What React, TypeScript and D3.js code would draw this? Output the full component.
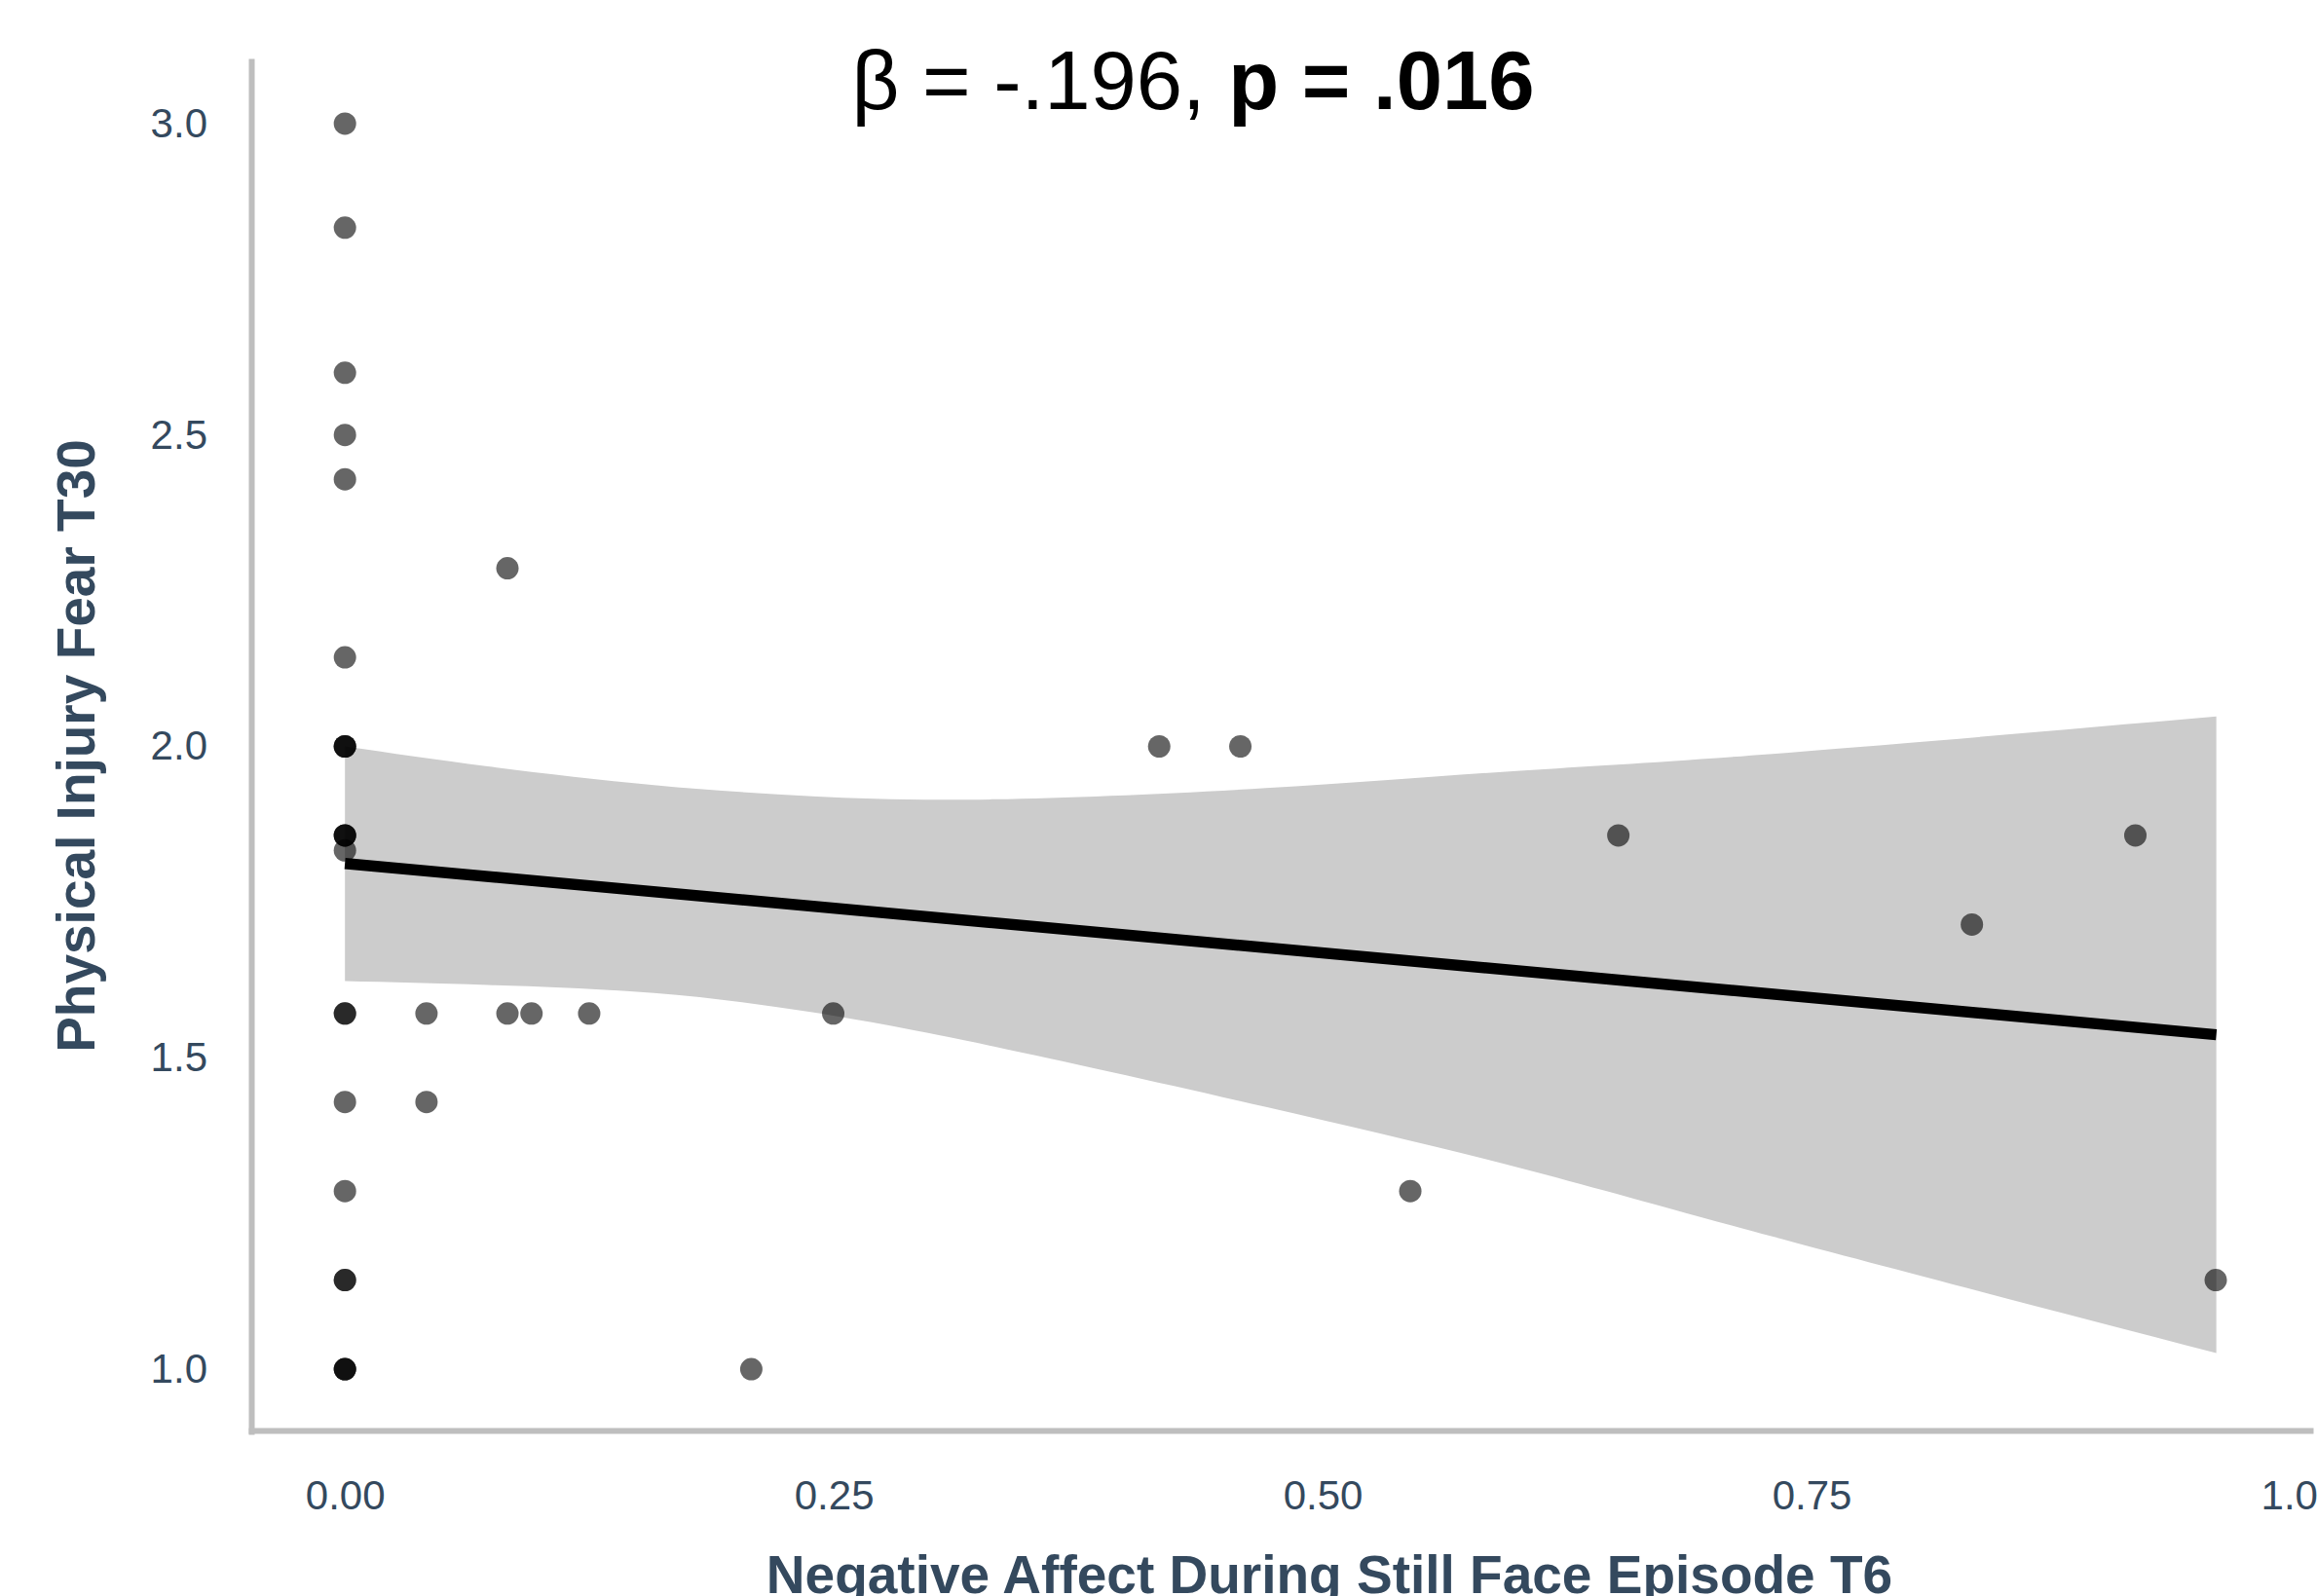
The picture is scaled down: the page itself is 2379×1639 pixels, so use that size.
import React, { useRef, useEffect } from 'react';
import * as d3 from 'd3';

// scatter points (x = negative affect T6, y = physical injury fear T30); repeated rows are overlapping points
const pointX = [
  0, 0, 0, 0, 0, 0, 0, 0, 0, 0, 0, 0, 0, 0, 0, 0, 0, 0, 0, 0, 0, 0,
  0.0417, 0.0417, 0.0831, 0.0831, 0.0954, 0.1249, 0.2078, 0.2497,
  0.4164, 0.4579, 0.5448, 0.6512, 0.832, 0.9156, 0.9567,
];
const pointY = [
  3.0, 2.833, 2.6, 2.5, 2.429, 2.143, 2.0, 2.0, 2.0, 1.857, 1.857, 1.857, 1.833,
  1.571, 1.571, 1.429, 1.286, 1.143, 1.143, 1.0, 1.0, 1.0,
  1.571, 1.429, 2.286, 1.571, 1.571, 1.571, 1.0, 1.571,
  2.0, 2.0, 1.286, 1.857, 1.714, 1.857, 1.143,
];

// confidence band
const bandX = [0, 0.073, 0.158, 0.239, 0.332, 0.471, 0.601, 0.73, 0.957];
const bandUpper = [2.0, 1.968, 1.938, 1.92, 1.915, 1.933, 1.961, 1.988, 2.048];
const bandLower = [1.623, 1.617, 1.604, 1.573, 1.518, 1.421, 1.323, 1.213, 1.026];

// fitted line
const fitX = [0, 0.957];
const fitY = [1.812, 1.537];

const xTicks = [0, 0.25, 0.5, 0.75, 1.0];
const yTicks = [1.0, 1.5, 2.0, 2.5, 3.0];

const FONT = "'Liberation Sans', Arial, Helvetica, sans-serif";
const W = 2379;
const H = 1639;

const App = () => {
  const ref = useRef<SVGSVGElement>(null);

  useEffect(() => {
    const svg = d3.select(ref.current);
    svg.selectAll('*').remove();

    const x = d3.scaleLinear().domain([-0.0479, 1.005]).range([258, 2372]);
    const y = d3.scaleLinear().domain([0.9, 3.1]).range([1470, 63]);

    // band
    const band = bandX.map((v, i) => ({ x: v, lo: bandLower[i], hi: bandUpper[i] }));
    svg.append('path')
      .datum(band)
      .attr('fill', '#cccccc')
      .attr('d', d3.area<any>()
        .x(d => x(d.x))
        .y0(d => y(d.lo))
        .y1(d => y(d.hi))
        .curve(d3.curveNatural));

    // points
    svg.append('g')
      .selectAll('circle')
      .data(pointX.map((v, i) => [v, pointY[i]]))
      .enter().append('circle')
      .attr('cx', d => x(d[0]))
      .attr('cy', d => y(d[1]))
      .attr('r', 11.5)
      .attr('fill', '#000')
      .attr('fill-opacity', 0.6);

    // fit line
    svg.append('path')
      .datum(fitX.map((v, i) => [v, fitY[i]]))
      .attr('fill', 'none')
      .attr('stroke', '#000')
      .attr('stroke-width', 11.5)
      .attr('d', d3.line<any>().x(d => x(d[0])).y(d => y(d[1])));

    // axes
    const xAxis = svg.append('g')
      .attr('transform', 'translate(0,1469)')
      .call(d3.axisBottom(x).tickValues(xTicks).tickFormat(d3.format('.2f')).tickSize(0).tickSizeOuter(0).tickPadding(51));
    const yAxis = svg.append('g')
      .attr('transform', 'translate(258,0)')
      .call(d3.axisLeft(y).tickValues(yTicks).tickFormat(d3.format('.1f')).tickSize(0).tickSizeOuter(0).tickPadding(45));

    [xAxis, yAxis].forEach(a => {
      a.attr('font-family', FONT).attr('font-size', 42);
      a.select('.domain').attr('stroke', '#bebebe').attr('stroke-width', 6).attr('stroke-linecap', 'square');
      a.selectAll('.tick text').attr('fill', '#34495e');
    });

    // axis titles
    svg.append('text')
      .attr('x', 1365)
      .attr('y', 1636)
      .attr('text-anchor', 'middle')
      .attr('font-family', FONT)
      .attr('font-weight', 'bold')
      .attr('font-size', 55)
      .attr('fill', '#34495e')
      .text('Negative Affect During Still Face Episode T6');

    svg.append('text')
      .attr('transform', 'translate(97,766) rotate(-90)')
      .attr('text-anchor', 'middle')
      .attr('font-family', FONT)
      .attr('font-weight', 'bold')
      .attr('font-size', 55)
      .attr('fill', '#34495e')
      .text('Physical Injury Fear T30');

    // annotation
    const t = svg.append('text')
      .attr('x', 1225)
      .attr('y', 112)
      .attr('text-anchor', 'middle')
      .attr('font-family', FONT)
      .attr('font-size', 85)
      .attr('fill', '#000');
    t.append('tspan').text('β = -.196, ');
    t.append('tspan').attr('font-weight', 'bold').text('p = .016');
  }, []);

  return (
    <div style={{ width: W, height: H }}>
      <style>{'body{margin:0;}'}</style>
      <svg ref={ref} width={W} height={H} style={{ display: 'block', background: '#fff' }} />
    </div>
  );
};

export default App;
